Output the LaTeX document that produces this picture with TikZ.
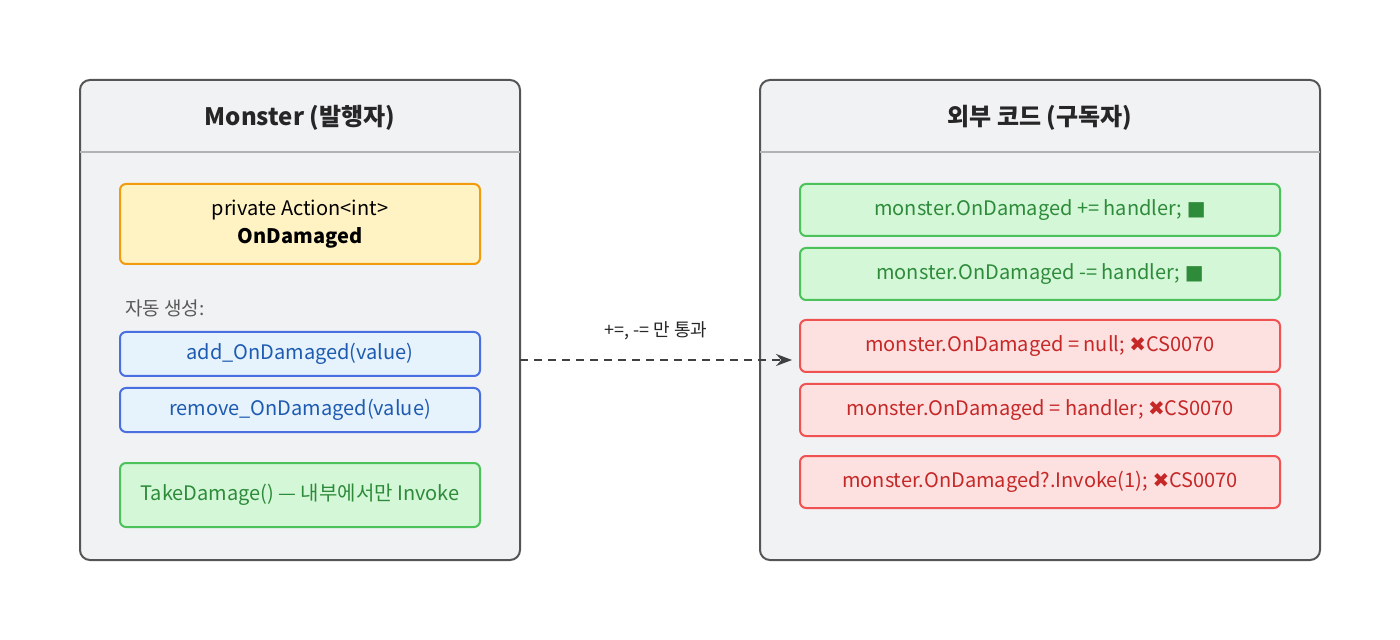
\documentclass[tikz,border=0pt]{standalone}
\usepackage{fontspec}
\setmainfont{Noto Sans CJK KR}
\newfontfamily\symfont{DejaVu Sans}
\usetikzlibrary{positioning,arrows.meta,calc}
\definecolor{panelfill}{HTML}{F1F2F4}
\definecolor{paneldraw}{HTML}{555555}
\definecolor{yellowfill}{HTML}{FFF3C4}
\definecolor{yellowdraw}{HTML}{F29B0C}
\definecolor{bluefill}{HTML}{E6F3FD}
\definecolor{bluedraw}{HTML}{4A6FE0}
\definecolor{bluetext}{HTML}{1E5BB0}
\definecolor{greenfill}{HTML}{D4F7D8}
\definecolor{greendraw}{HTML}{4CC35A}
\definecolor{greentext}{HTML}{2E8B3A}
\definecolor{redfill}{HTML}{FDE0E0}
\definecolor{reddraw}{HTML}{F05252}
\definecolor{redtext}{HTML}{C62828}
\newcommand{\okmark}{{\symfont\textcolor{greentext}{■}}}
\newcommand{\nomark}{{\symfont\textcolor{redtext}{✖}}}

\begin{document}
\begin{tikzpicture}[
  x=0.5pt,
  y=-0.5pt,
  panel/.style={
    draw=paneldraw,
    fill=panelfill,
    line width=1pt,
    rounded corners=5pt
  },
  title/.style={
    font=\fontsize{12}{14}\selectfont\bfseries,
    text=black!85
  },
  box/.style={
    rounded corners=3pt,
    line width=1pt,
    inner sep=0pt,
    font=\fontsize{10}{12}\selectfont,
    align=center
  },
  yellowbox/.style={box, fill=yellowfill, draw=yellowdraw},
  bluebox/.style={box, fill=bluefill, draw=bluedraw, text=bluetext},
  greenbox/.style={box, fill=greenfill, draw=greendraw, text=greentext},
  redbox/.style={box, fill=redfill, draw=reddraw, text=redtext},
  >=Stealth
]
\useasboundingbox (0,0) rectangle (1400,640);

% Panels
\draw[panel] (80,80) rectangle (520,560);
\draw[panel] (760,80) rectangle (1320,560);
\draw[black!30, line width=0.6pt] (80,152) -- (520,152);
\draw[black!30, line width=0.6pt] (760,152) -- (1320,152);
\node[title] (pubtitle) at (300,118) {Monster (발행자)};
\node[title] (subtitle) at (1040,118) {외부 코드 (구독자)};

% Monster side
\node[yellowbox, minimum width=180pt, minimum height=40pt] (field) at (300,224)
  {private Action<int>\\[2pt]\textbf{OnDamaged}};
\node[anchor=west, font=\fontsize{9.5}{11}\selectfont, text=black!65] (auto) at (118,308) {자동 생성:};
\node[bluebox, minimum width=180pt, minimum height=22pt] (add) at (300,354) {add\_OnDamaged(value)};
\node[bluebox, minimum width=180pt, minimum height=22pt] (remove) at (300,410) {remove\_OnDamaged(value)};
\node[greenbox, minimum width=180pt, minimum height=32pt] (take) at (300,495) {TakeDamage() — 내부에서만 Invoke};

% Subscriber side
\node[greenbox, minimum width=240pt, minimum height=26pt] (plus) at (1040,210) {monster.OnDamaged += handler; \okmark};
\node[greenbox, minimum width=240pt, minimum height=26pt] (minus) at (1040,274) {monster.OnDamaged -= handler; \okmark};
\node[redbox, minimum width=240pt, minimum height=26pt] (null) at (1040,346) {monster.OnDamaged = null; \nomark CS0070};
\node[redbox, minimum width=240pt, minimum height=26pt] (assign) at (1040,410) {monster.OnDamaged = handler; \nomark CS0070};
\node[redbox, minimum width=240pt, minimum height=26pt] (invoke) at (1040,482) {monster.OnDamaged?.Invoke(1); \nomark CS0070};

% Arrow
\coordinate (from) at (520,360);
\coordinate (to) at (792,360);
\draw[->, line width=1.1pt, black!75, dash pattern=on 4pt off 3pt] (from) --
  node[above=6pt, text=black!85, font=\fontsize{9}{11}\selectfont] {+=, -= 만 통과} (to);
\end{tikzpicture}
\end{document}
